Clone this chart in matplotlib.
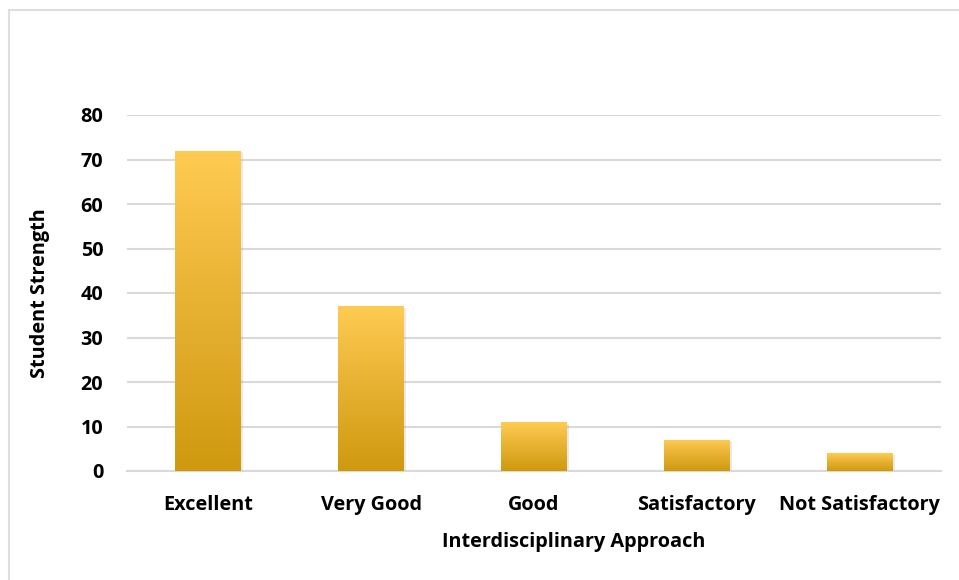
import numpy as np
import matplotlib
matplotlib.use('Agg')
import matplotlib.pyplot as plt
from matplotlib.colors import LinearSegmentedColormap
from matplotlib.patches import Rectangle

# Data
categories = ['Excellent', 'Very Good', 'Good', 'Satisfactory', 'Not Satisfactory']
values = [72, 37, 11, 7, 4]
yticks = [0, 10, 20, 30, 40, 50, 60, 70, 80]

plt.rcParams['font.family'] = ['Open Sans', 'DejaVu Sans']
plt.rcParams['font.weight'] = 'bold'
FS = 14.3

fig = plt.figure(figsize=(9.59, 5.8), dpi=100)
ax = fig.add_axes([127 / 959, 1 - 471 / 580, 814 / 959, 356 / 580])

# light chart border (only left/top edges visible in the original crop)
fig.patches.append(Rectangle((9 / 959, -0.1), 1.2, 1 - 10 / 580 + 0.1,
                             transform=fig.transFigure, fill=False,
                             edgecolor='#DDDDE3', linewidth=1.5, zorder=0))

x = np.arange(len(categories))
width = 0.405

# faint shadow behind bars
ax.bar(x + 0.012, values, width, bottom=-0.35, color='#888888', alpha=0.18, zorder=2)
bars = ax.bar(x, values, width, color='none', zorder=3)

gold = LinearSegmentedColormap.from_list('gold', ['#CF990F', '#E6B131', '#FFCB52'])
grad = np.linspace(0, 1, 256).reshape(-1, 1)
for b in bars:
    x0, y0 = b.get_x(), b.get_y()
    im = ax.imshow(grad, cmap=gold, origin='lower', aspect='auto',
                   extent=[x0, x0 + b.get_width(), y0, y0 + b.get_height()], zorder=3)
    im.set_clip_path(b)

ax.set_xlim(-0.5, len(categories) - 0.5)
ax.set_ylim(0, 80)
ax.set_yticks(yticks)
ax.set_xticks(x)
ax.set_xticklabels(categories, fontsize=FS, fontweight='bold')
ax.set_yticklabels([str(v) for v in yticks], fontsize=FS, fontweight='bold')
ax.tick_params(axis='both', length=0)
ax.tick_params(axis='y', pad=17)
ax.tick_params(axis='x', pad=17.5)

ax.grid(axis='y', color='#D9D9D9', linewidth=1.5, zorder=0)
ax.set_axisbelow(True)
for s in ['top', 'right', 'left']:
    ax.spines[s].set_visible(False)
ax.spines['bottom'].set_color('#D9D9D9')
ax.spines['bottom'].set_linewidth(1.5)

ax.set_xlabel('Interdisciplinary Approach', fontsize=FS, fontweight='bold')
ax.xaxis.set_label_coords(0.549, -0.172)
ax.set_ylabel('Student Strength', fontsize=FS, fontweight='bold')
ax.yaxis.set_label_coords(-0.0946, 0.5)

fig.savefig('out.png', dpi=100)
